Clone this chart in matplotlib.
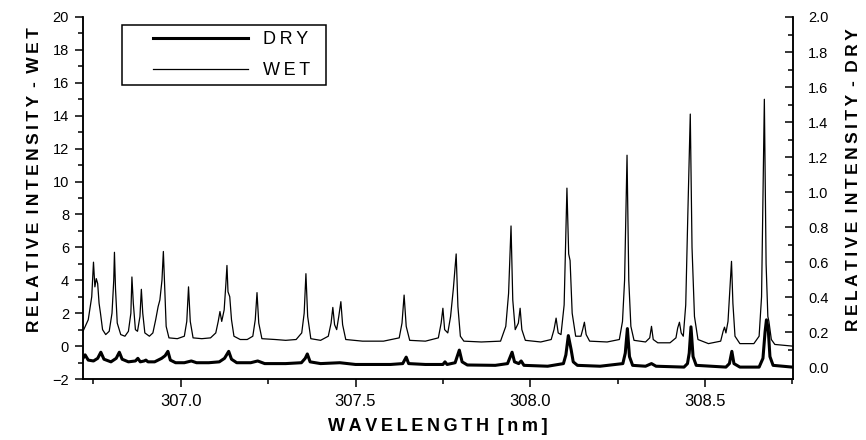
import numpy as np
import matplotlib
matplotlib.use('Agg')
from matplotlib import pyplot as plt
from matplotlib.lines import Line2D
from matplotlib.legend_handler import HandlerLine2D
from matplotlib.ticker import MultipleLocator, FuncFormatter

plt.rcParams['font.family'] = ['Liberation Sans', 'DejaVu Sans']

# traced spectrum of the WET sample (wavelength nm, intensity on left axis)
wet_trace = [
    (306.720, 0.9), (306.735, 1.6), (306.745, 3.0), (306.750, 5.1), (306.754, 3.6),
    (306.758, 4.1), (306.762, 3.8), (306.766, 2.6), (306.770, 2.0), (306.776, 1.0),
    (306.785, 0.7), (306.795, 0.9), (306.803, 2.0), (306.808, 4.0), (306.810, 5.7),
    (306.813, 3.5), (306.818, 1.4), (306.828, 0.7), (306.840, 0.6), (306.850, 0.9),
    (306.857, 2.0), (306.860, 4.2), (306.864, 2.6), (306.870, 1.0), (306.876, 0.9),
    (306.883, 1.8), (306.887, 3.45), (306.891, 2.0), (306.897, 0.8), (306.910, 0.6),
    (306.920, 0.8), (306.928, 1.6), (306.935, 2.4), (306.940, 2.8), (306.946, 4.0),
    (306.950, 5.75), (306.954, 3.5), (306.958, 1.2), (306.966, 0.5), (306.990, 0.45),
    (307.010, 0.6), (307.017, 1.5), (307.022, 3.6), (307.027, 1.5), (307.035, 0.5),
    (307.060, 0.45), (307.085, 0.5), (307.100, 0.8), (307.107, 1.5), (307.112, 2.1),
    (307.117, 1.5), (307.124, 2.2), (307.129, 3.8), (307.132, 4.9), (307.135, 3.3),
    (307.140, 3.0), (307.145, 1.6), (307.152, 0.6), (307.170, 0.4), (307.190, 0.4),
    (307.206, 0.6), (307.213, 1.6), (307.218, 3.25), (307.223, 1.4), (307.232, 0.45),
    (307.270, 0.4), (307.300, 0.35), (307.330, 0.4), (307.346, 0.8), (307.353, 2.0),
    (307.358, 4.4), (307.363, 1.8), (307.372, 0.45), (307.400, 0.35), (307.422, 0.6),
    (307.430, 1.4), (307.435, 2.35), (307.440, 1.3), (307.446, 1.0), (307.452, 1.8),
    (307.458, 2.7), (307.463, 1.3), (307.472, 0.4), (307.520, 0.3), (307.580, 0.3),
    (307.625, 0.5), (307.633, 1.4), (307.639, 3.1), (307.645, 1.2), (307.655, 0.35),
    (307.700, 0.3), (307.737, 0.5), (307.745, 1.4), (307.750, 2.3), (307.755, 1.0),
    (307.764, 0.8), (307.772, 1.8), (307.780, 3.5), (307.788, 5.6), (307.793, 2.4),
    (307.800, 0.6), (307.810, 0.3), (307.860, 0.25), (307.915, 0.3), (307.930, 1.2),
    (307.938, 3.2), (307.945, 7.3), (307.950, 2.8), (307.957, 1.0), (307.966, 1.4),
    (307.971, 2.3), (307.976, 1.0), (307.986, 0.35), (308.030, 0.25), (308.060, 0.4),
    (308.068, 1.0), (308.074, 1.7), (308.080, 0.8), (308.088, 0.7), (308.097, 2.5),
    (308.105, 9.6), (308.110, 5.6), (308.114, 5.2), (308.120, 2.0), (308.130, 0.6),
    (308.145, 0.6), (308.150, 1.0), (308.155, 1.45), (308.160, 0.7), (308.170, 0.3),
    (308.220, 0.25), (308.255, 0.4), (308.264, 1.5), (308.270, 4.0), (308.277, 11.6),
    (308.282, 4.0), (308.288, 1.2), (308.297, 0.35), (308.330, 0.25), (308.342, 0.5),
    (308.347, 1.2), (308.352, 0.4), (308.365, 0.2), (308.400, 0.2), (308.417, 0.5),
    (308.422, 1.1), (308.427, 1.45), (308.432, 0.8), (308.438, 0.6), (308.445, 2.5),
    (308.451, 8.0), (308.458, 14.1), (308.463, 6.0), (308.470, 1.8), (308.480, 0.4),
    (308.510, 0.15), (308.545, 0.3), (308.552, 0.9), (308.556, 1.15), (308.560, 0.8),
    (308.566, 1.5), (308.573, 4.0), (308.576, 5.15), (308.580, 2.6), (308.586, 0.6),
    (308.600, 0.15), (308.640, 0.15), (308.655, 0.6), (308.662, 3.0), (308.670, 15.0),
    (308.675, 5.0), (308.680, 1.8), (308.683, 1.5), (308.690, 0.4), (308.700, 0.1),
    (308.750, 0.0),
]

# traced spectrum of the DRY sample (wavelength nm, intensity on right axis)
dry_trace = [
    (306.720, 0.05), (306.726, 0.07), (306.735, 0.04), (306.750, 0.035), (306.762, 0.05),
    (306.771, 0.085), (306.780, 0.045), (306.800, 0.03), (306.815, 0.05), (306.824, 0.085),
    (306.832, 0.045), (306.850, 0.03), (306.870, 0.035), (306.877, 0.05), (306.884, 0.03),
    (306.895, 0.035), (306.900, 0.04), (306.906, 0.03), (306.925, 0.03), (306.945, 0.05),
    (306.955, 0.065), (306.963, 0.09), (306.970, 0.04), (306.985, 0.025), (307.010, 0.025),
    (307.030, 0.035), (307.045, 0.025), (307.080, 0.025), (307.110, 0.03), (307.125, 0.05),
    (307.137, 0.09), (307.145, 0.045), (307.160, 0.025), (307.200, 0.025), (307.220, 0.035),
    (307.240, 0.02), (307.300, 0.02), (307.345, 0.025), (307.356, 0.05), (307.362, 0.075),
    (307.370, 0.03), (307.400, 0.02), (307.455, 0.025), (307.500, 0.015), (307.600, 0.015),
    (307.635, 0.02), (307.645, 0.057), (307.652, 0.02), (307.700, 0.015), (307.750, 0.015),
    (307.756, 0.03), (307.762, 0.015), (307.785, 0.025), (307.797, 0.097), (307.805, 0.03),
    (307.820, 0.012), (307.900, 0.01), (307.935, 0.02), (307.948, 0.085), (307.955, 0.03),
    (307.967, 0.02), (307.974, 0.035), (307.982, 0.01), (308.050, 0.005), (308.095, 0.02),
    (308.102, 0.07), (308.109, 0.18), (308.117, 0.1), (308.123, 0.03), (308.135, 0.01),
    (308.200, 0.005), (308.265, 0.02), (308.272, 0.08), (308.278, 0.22), (308.284, 0.06),
    (308.293, 0.01), (308.330, 0.005), (308.347, 0.02), (308.360, 0.005), (308.440, 0.0),
    (308.450, 0.02), (308.455, 0.08), (308.460, 0.23), (308.466, 0.06), (308.475, 0.01),
    (308.560, 0.0), (308.570, 0.02), (308.577, 0.09), (308.583, 0.02), (308.600, 0.0),
    (308.655, 0.0), (308.666, 0.05), (308.672, 0.2), (308.676, 0.27), (308.681, 0.22),
    (308.686, 0.06), (308.695, 0.01), (308.750, 0.0),
]

wet_wl, wet_int = np.array(wet_trace).T
dry_wl, dry_int = np.array(dry_trace).T

THIN = '\u2009'


def spaced(s):
    # fake letter spacing of the old typeset labels
    return (' ' + THIN).join(THIN.join(w) for w in s.split(' '))


fig = plt.figure(figsize=(8.66, 4.40), dpi=100)
ax = fig.add_axes([83 / 866, 1 - 379 / 440, 710 / 866, 362 / 440])
ax2 = ax.twinx()

l_wet, = ax.plot(wet_wl, wet_int, color='black', lw=0.9)
l_dry, = ax2.plot(dry_wl, dry_int, color='black', lw=2.2)

ax.set_xlim(306.72, 308.752)
ax.set_ylim(-2, 20)
ax2.set_ylim(-0.068, 2.0)

for a in (ax, ax2):
    a.spines['top'].set_visible(False)
    for s in ('left', 'right', 'bottom'):
        a.spines[s].set_linewidth(1.1)

ax.xaxis.set_major_locator(MultipleLocator(0.5))
ax.xaxis.set_minor_locator(MultipleLocator(0.25))
ax.xaxis.set_major_formatter(FuncFormatter(lambda v, p: '%.1f' % v))
ax.yaxis.set_major_locator(MultipleLocator(2))
ax.yaxis.set_minor_locator(MultipleLocator(1))
ax2.yaxis.set_major_locator(MultipleLocator(0.2))
ax2.yaxis.set_minor_locator(MultipleLocator(0.1))
ax2.yaxis.set_major_formatter(FuncFormatter(lambda v, p: '%.1f' % v))

ax.tick_params(axis='x', which='major', direction='out', length=6, width=1.1, pad=5, labelsize=12)
ax.tick_params(axis='x', which='minor', direction='out', length=3.5, width=1.1)
ax.tick_params(axis='y', which='major', direction='out', length=6, width=1.1, pad=4, labelsize=10.5)
ax.tick_params(axis='y', which='minor', direction='out', length=3.5, width=1.1)
ax2.tick_params(axis='y', which='major', direction='in', length=6, width=1.1, pad=11, labelsize=10.5)
ax2.tick_params(axis='y', which='minor', direction='in', length=3.5, width=1.1)

ax.set_xlabel(spaced('WAVELENGTH [nm]'), fontsize=13, fontweight='bold')
ax.xaxis.set_label_coords(0.5, -0.108)
ax.set_ylabel(spaced('RELATIVE INTENSITY - WET'), fontsize=12.5, fontweight='bold')
ax.yaxis.set_label_coords(-0.058, 0.55)
ax2.set_ylabel(spaced('RELATIVE INTENSITY - DRY'), fontsize=12.5, fontweight='bold', rotation=90)
ax2.yaxis.set_label_coords(1.074, 0.55)

leg = ax.legend([l_dry, l_wet], [spaced('DRY') + '  ', spaced('WET') + '  '], loc='upper left',
                bbox_to_anchor=(0.055, 0.978), borderaxespad=0, fontsize=13,
                fancybox=False, framealpha=1, edgecolor='black',
                handlelength=6.65, handletextpad=0.78, borderpad=0.35, labelspacing=0.75,
                handler_map={Line2D: HandlerLine2D(xpad=1.37)})
leg.get_frame().set_linewidth(1.1)

fig.savefig('out.png', dpi=100)
